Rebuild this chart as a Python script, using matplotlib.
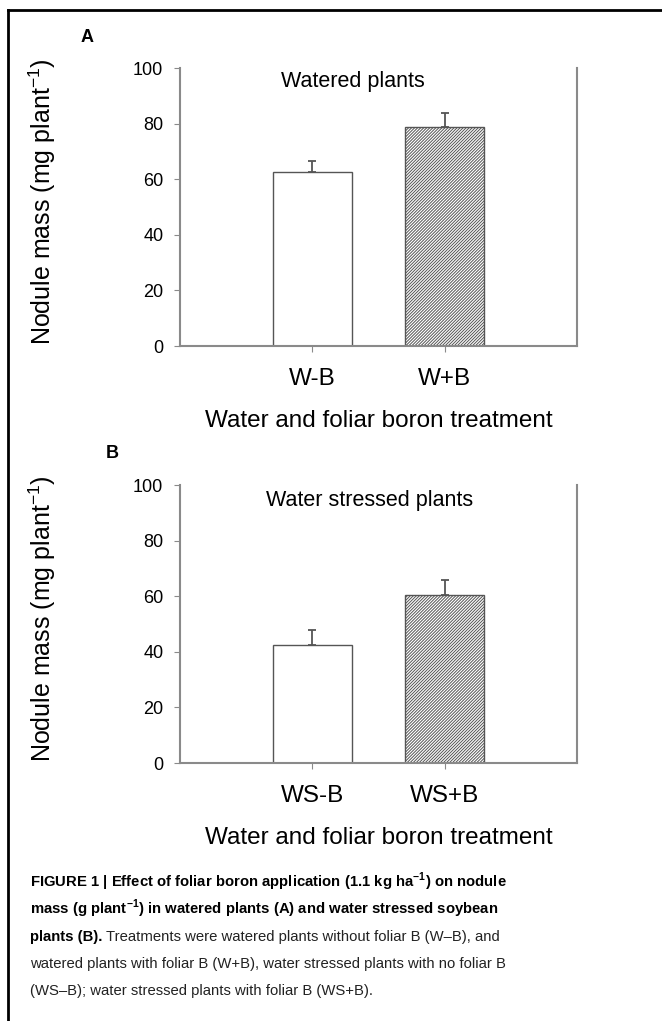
import numpy as np
import matplotlib
matplotlib.use("Agg")
import matplotlib.pyplot as plt
from matplotlib.lines import Line2D

plt.rcParams['font.family'] = ['Liberation Sans', 'DejaVu Sans']
plt.rcParams['mathtext.fontset'] = 'custom'
plt.rcParams['mathtext.rm'] = 'Liberation Sans'
plt.rcParams['mathtext.bf'] = 'Liberation Sans:bold'
plt.rcParams['hatch.color'] = '#555555'
plt.rcParams['hatch.linewidth'] = 0.7

# data
labels_A = ["W-B", "W+B"]
mass_A = [62.7, 78.8]
err_A = [3.8, 5.0]

labels_B = ["WS-B", "WS+B"]
mass_B = [42.5, 60.4]
err_B = [5.5, 5.4]

notes = ["Watered plants", "Water stressed plants"]
ticks_y = [0, 20, 40, 60, 80, 100]

W, H = 662, 1021
fig = plt.figure(figsize=(W / 100, H / 100), dpi=100)

def fx(px):
    return px / W

def fy(py):
    return 1 - py / H

# outer frame (left and top edge only visible)
fig.add_artist(Line2D([fx(8), fx(8)], [fy(10), 0], color='black', lw=2))
fig.add_artist(Line2D([fx(8), 1], [fy(10), fy(10)], color='black', lw=2))

gray = '#8a8a8a'
panels = [
    (labels_A, mass_A, err_A, notes[0], (1.31, 95), 68, 346, "A", (87, 37)),
    (labels_B, mass_B, err_B, notes[1], (1.43, 94.6), 485, 763, "B", (112, 453)),
]

for labels, vals, errs, note, note_xy, top, bot, letter, let_xy in panels:
    ax = fig.add_axes([fx(180), fy(bot), fx(577) - fx(180), (bot - top) / H])
    x = np.arange(1, len(labels) + 1)
    ax.bar(x[0], vals[0], width=0.6, color='white', edgecolor='#555555', lw=1)
    ax.bar(x[1], vals[1], width=0.6, color='white', edgecolor='#555555', lw=1,
           hatch='/' * 11)
    ax.errorbar(x, vals, yerr=[[0] * len(errs), errs], fmt='none',
                ecolor='#555555', elinewidth=1.3, capsize=3, capthick=1.3)
    ax.set_xlim(0, 3)
    ax.set_ylim(0, 100)
    ax.set_yticks(ticks_y)
    ax.set_xticks(x)
    ax.set_xticklabels(labels, fontsize=17.5)
    ax.tick_params(axis='y', labelsize=13, length=4, color=gray, pad=8)
    ax.tick_params(axis='x', length=4, color=gray, pad=12)
    for s in ['left', 'right', 'bottom']:
        ax.spines[s].set_color(gray)
        ax.spines[s].set_linewidth(1.5)
    ax.spines['top'].set_visible(False)
    ax.set_xlabel("Water and foliar boron treatment", fontsize=17.5, labelpad=14)
    ax.text(note_xy[0], note_xy[1], note, fontsize=15.5, ha='center', va='center')
    fig.text(fx(let_xy[0]), fy(let_xy[1]), letter, fontsize=13, fontweight='bold',
             ha='center', va='center')
    fig.text(fx(42), fy((top + bot) / 2 - 5),
             r"Nodule mass (mg plant$^{\mathregular{-1}}$)",
             fontsize=18, rotation=90, ha='center', va='center',
             math_fontfamily='dejavusans')

# caption
cx = fx(30)
bold_lines = [
    r"FIGURE 1 | Effect of foliar boron application (1.1 kg ha$^{\mathbf{-1}}$) on nodule",
    r"mass (g plant$^{\mathbf{-1}}$) in watered plants (A) and water stressed soybean",
]
base = [887, 914, 941, 968, 995]
for s in bold_lines:
    fig.text(cx, fy(base[bold_lines.index(s)]), s, fontsize=10.7, fontweight='bold',
             va='baseline')
t3 = fig.text(cx, fy(base[2]), "plants (B).", fontsize=10.7, fontweight='bold',
              va='baseline')
fig.canvas.draw()
r = fig.canvas.get_renderer()
bb = t3.get_window_extent(r)
reg = dict(fontsize=10.7, va='baseline', color='#222222')
fig.text(bb.x1 / W + fx(4), fy(base[2]),
         "Treatments were watered plants without foliar B (W\u2013B), and", **reg)
fig.text(cx, fy(base[3]),
         "watered plants with foliar B (W+B), water stressed plants with no foliar B",
         **reg)
fig.text(cx, fy(base[4]),
         "(WS\u2013B); water stressed plants with foliar B (WS+B).", **reg)

plt.savefig("out.png", dpi=100)
